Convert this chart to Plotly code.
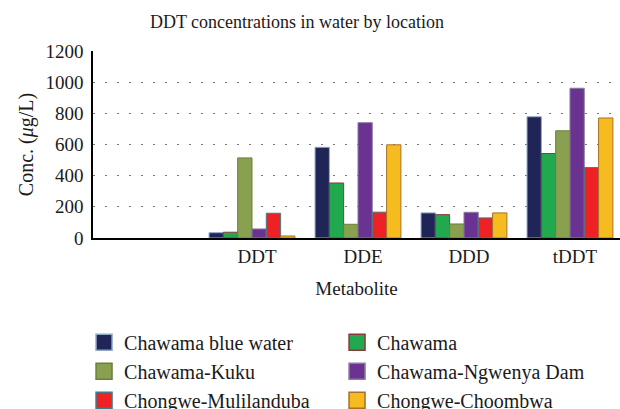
import plotly.graph_objects as go

metabolites = ["DDT", "DDE", "DDD", "tDDT"]
series_names = ["Chawama blue water", "Chawama", "Chawama-Kuku",
                "Chawama-Ngwenya Dam", "Chongwe-Mulilanduba", "Chongwe-Choombwa"]
chawama_blue_water = [34, 582, 161, 778]
chawama = [37, 353, 150, 542]
chawama_kuku = [514, 88, 90, 688]
chawama_ngwenya_dam = [58, 740, 165, 961]
chongwe_mulilanduba = [159, 166, 129, 452]
chongwe_choombwa = [13, 598, 161, 770]

values = [chawama_blue_water, chawama, chawama_kuku,
          chawama_ngwenya_dam, chongwe_mulilanduba, chongwe_choombwa]
fills = ["#1F2557", "#22A84F", "#88A04F", "#6A3391", "#EE2224", "#F6BB1E"]
edges = ["#8FA8C4", "#8B3A3A", "#6B7F3A", "#8C7D9C", "#3F7C8C", "#A8702A"]

FONT = "Liberation Serif"
fig = go.Figure()
for name, vals, fc, ec in zip(series_names, values, fills, edges):
    fig.add_trace(go.Bar(x=metabolites, y=vals, name=name, showlegend=False,
                         marker=dict(color=fc, line=dict(color=ec, width=1))))
for name, fc, ec in zip(series_names, fills, edges):
    fig.add_trace(go.Scatter(x=[None], y=[None], name=name, mode="markers",
                             marker=dict(symbol="square", size=19, color=fc,
                                         line=dict(color=ec, width=1.5))))

fig.update_layout(
    width=620, height=409,
    margin=dict(l=93, r=0, t=51, b=171, autoexpand=False),
    paper_bgcolor="white", plot_bgcolor="white",
    font=dict(family=FONT, color="#1a1a1a", size=19),
    barmode="group", bargap=0.19, bargroupgap=0,
    title=dict(text="DDT concentrations in water by location",
               font=dict(size=18, family=FONT, color="#1a1a1a"),
               x=297/620, xanchor="center", xref="container",
               y=1-22/409, yanchor="middle", yref="container"),
    xaxis=dict(type="category", range=[-1.5, 3.472], showgrid=False, automargin=False,
               showline=True, linecolor="black", linewidth=2,
               ticks="", ticklabelshift=5, ticklabelstandoff=0,
               tickfont=dict(size=19, family=FONT),
               title=dict(text="Metabolite", font=dict(size=19, family=FONT), standoff=16)),
    yaxis=dict(range=[0, 1200], tickvals=[0, 200, 400, 600, 800, 1000, 1200], automargin=False,
               showgrid=True, gridcolor="#777777", gridwidth=1.2, griddash="1.5px,10.5px",
               zeroline=False, showline=True, linecolor="black", linewidth=1.5,
               ticks="", ticklabelstandoff=4, tickfont=dict(size=19, family=FONT),
               title=dict(text="Conc. (<i>μ</i>g/L)", font=dict(size=20, family=FONT), standoff=6)),
    legend=dict(orientation="h", x=-0.017, xanchor="left", y=-0.453, yanchor="top",
                entrywidth=208, font=dict(size=20, family=FONT, color="#1a1a1a"),
                tracegroupgap=0, itemwidth=30, bgcolor="rgba(0,0,0,0)"),
)

fig.write_html("out.html", config={"displayModeBar": False},
               post_script="document.body.style.margin='0px';")
